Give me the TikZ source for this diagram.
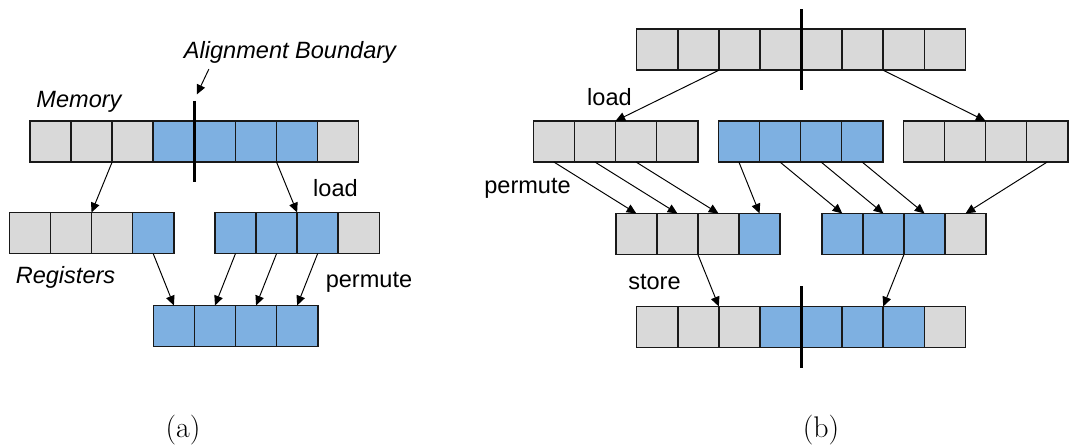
\documentclass[tikz,border=0pt]{standalone}
\usepackage{fontspec}
\newfontfamily\diagfont{Liberation Sans}
\usepackage{tikz}
\usetikzlibrary{arrows.meta, positioning}

\definecolor{cellgray}{RGB}{217,217,217}
\definecolor{cellblue}{RGB}{126,176,225}

% a row of cells #1 1, #1 2, ... starting at #2, one fill colour per cell
\newcommand{\cellrow}[3]{%
  \foreach \c [count=\i] in {#3} {
    \ifnum\i=1
      \node[cell, fill=\c] (#1\i) at (#2) {};
    \else
      \pgfmathtruncatemacro\j{\i-1}
      \node[cell, fill=\c, right=0pt of #1\j] (#1\i) {};
    \fi
  }%
}

\begin{document}
\begin{tikzpicture}[
    x=0.02cm, y=-0.02cm,
    cell/.style={rectangle, draw=black!90, line width=0.9pt, minimum size=0.822cm, inner sep=0pt, outer sep=0pt},
    arrow/.style={-{Triangle[length=5.5pt,width=5pt]}, line width=0.55pt},
    bound/.style={line width=1.7pt},
    lbl/.style={font=\diagfont\fontsize{13.4}{16}\selectfont, inner sep=1pt},
    ital/.style={font=\diagfont\itshape\fontsize{13.4}{16}\selectfont, inner sep=1pt},
    subcap/.style={font=\fontsize{17}{20}\selectfont}
]
    \useasboundingbox (0,0) rectangle (1069,446);

    % (a) memory, registers and result
    \cellrow{mem}{50.5,141.5}{cellgray,cellgray,cellgray,cellblue,cellblue,cellblue,cellblue,cellgray}
    \cellrow{regA}{29.9,233}{cellgray,cellgray,cellgray,cellblue}
    \cellrow{regB}{235.5,233}{cellblue,cellblue,cellblue,cellgray}
    \cellrow{res}{173.9,326}{cellblue,cellblue,cellblue,cellblue}

    \draw[bound] ([yshift=0.4cm]mem4.north east) -- ([yshift=-0.4cm]mem4.south east);

    \node[ital] (align) at (290,52) {Alignment Boundary};
    \node[ital] (memlbl) at (79,102) {Memory};
    \node[lbl] (loadA) at (335.5,188) {load};
    \node[ital] (reglbl) at (65.5,277) {Registers};
    \node[lbl] (permA) at (369,282) {permute};

    \coordinate (btip) at ([xshift=0.05cm, yshift=0.53cm]mem4.north east);
    \draw[arrow] ([xshift=0.54cm, yshift=-0.08cm]align.south west) -- (btip);

    % load
    \draw[arrow] (mem2.south east) -- (regA2.north east);
    \draw[arrow] (mem6.south east) -- (regB2.north east);
    % permute
    \draw[arrow] (regA4.south) -- (res1.north);
    \draw[arrow] (regB1.south) -- (res2.north);
    \draw[arrow] (regB2.south) -- (res3.north);
    \draw[arrow] (regB3.south) -- (res4.north);

    % (b) aligned loads, permute, store
    \cellrow{src}{657.2,49.7}{cellgray,cellgray,cellgray,cellgray,cellgray,cellgray,cellgray,cellgray}
    \cellrow{ldA}{553.9,141.5}{cellgray,cellgray,cellgray,cellgray}
    \cellrow{ldB}{738.9,141.5}{cellblue,cellblue,cellblue,cellblue}
    \cellrow{ldC}{923.9,141.5}{cellgray,cellgray,cellgray,cellgray}
    \cellrow{pmA}{636.3,234}{cellgray,cellgray,cellgray,cellblue}
    \cellrow{pmB}{842.3,234}{cellblue,cellblue,cellblue,cellgray}
    \cellrow{dst}{657.2,327}{cellgray,cellgray,cellgray,cellblue,cellblue,cellblue,cellblue,cellgray}

    \draw[bound] ([yshift=0.4cm]src4.north east) -- ([yshift=-0.4cm]src4.south east);
    \draw[bound] ([yshift=0.4cm]dst4.north east) -- ([yshift=-0.4cm]dst4.south east);

    \node[lbl] (loadB) at (609.5,97) {load};
    \node[lbl] (permB) at (527.5,188) {permute};
    \node[lbl] (storeB) at (654.5,282) {store};

    % load
    \draw[arrow] (src2.south east) -- (ldA2.north east);
    \draw[arrow] (src6.south east) -- (ldC2.north east);
    % permute
    \draw[arrow] (ldA1.south) -- (pmA1.north);
    \draw[arrow] (ldA2.south) -- (pmA2.north);
    \draw[arrow] (ldA3.south) -- (pmA3.north);
    \draw[arrow] (ldB1.south) -- (pmA4.north);
    \draw[arrow] (ldB2.south) -- (pmB1.north);
    \draw[arrow] (ldB3.south) -- (pmB2.north);
    \draw[arrow] (ldB4.south) -- (pmB3.north);
    \draw[arrow] (ldC4.south) -- (pmB4.north);
    % store
    \draw[arrow] (pmA2.south east) -- (dst2.north east);
    \draw[arrow] (pmB2.south east) -- (dst6.north east);

    \node[subcap] (capA) at (183,430) {(a)};
    \node[subcap] (capB) at (821,430) {(b)};
\end{tikzpicture}
\end{document}
